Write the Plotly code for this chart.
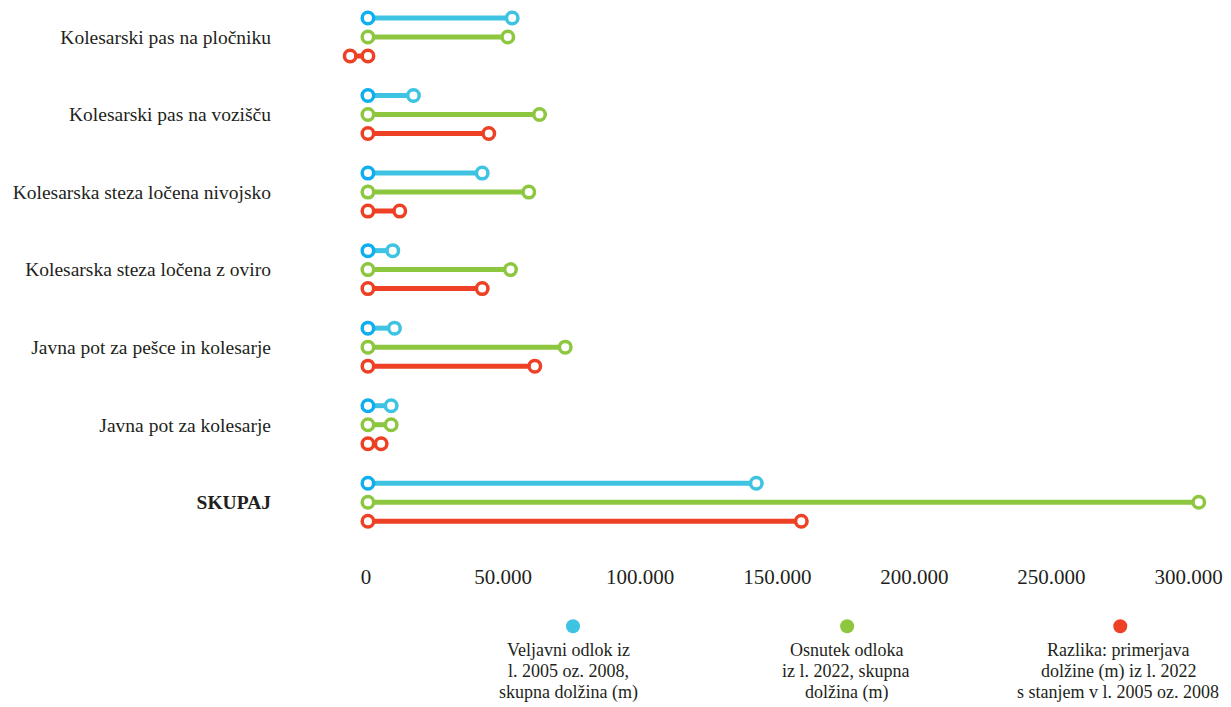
import plotly.graph_objects as go

categories = [
    "Kolesarski pas na pločniku",
    "Kolesarski pas na vozišču",
    "Kolesarska steza ločena nivojsko",
    "Kolesarska steza ločena z oviro",
    "Javna pot za pešce in kolesarje",
    "Javna pot za kolesarje",
    "<b>SKUPAJ</b>",
]
veljavni = [52610, 16600, 41670, 9050, 9670, 8460, 141620]
osnutek = [51000, 62570, 58660, 51990, 71950, 8460, 302990]
razlika = [-6490, 44070, 11600, 41670, 60850, 4810, 158050]

x_tickvals = [0, 50000, 100000, 150000, 200000, 250000, 300000]
x_ticktext = ["0", "50.000", "100.000", "150.000", "200.000", "250.000", "300.000"]

legend_texts = [
    ["Veljavni odlok iz", "l. 2005 oz. 2008,", "skupna dolžina (m)"],
    ["Osnutek odloka", "iz l. 2022, skupna", "dolžina (m)"],
    ["Razlika: primerjava", "dolžine (m) iz l. 2022", "s stanjem v l. 2005 oz. 2008"],
]

series = [
    (veljavni, -0.245, "#0FAEEF", "#3EC3E3"),
    (osnutek, 0.0, "#8DC63F", "#8DC63F"),
    (razlika, 0.245, "#EE4024", "#EE4024"),
]

FONT = "Liberation Serif"
TXT = "#231F20"

fig = go.Figure()
for vals, off, c_start, c_line in series:
    xs, ys, mcols = [], [], []
    for i, v in enumerate(vals):
        xs += [0, v, None]
        ys += [i + off, i + off, None]
        mcols += [c_start, c_line, c_line]
    fig.add_trace(go.Scatter(
        x=xs, y=ys, mode="lines+markers",
        line=dict(color=c_line, width=5),
        marker=dict(symbol="circle", size=11.5, color="white",
                    line=dict(color=mcols, width=3.5)),
        showlegend=False, hoverinfo="skip", cliponaxis=False,
    ))

FW, FH = 1223, 699
L, W = 338.1, 871.6
T, H = 0.0, 532.75
def px2paper_x(px):
    return (px - L) / W
def px2paper_y(py):
    return (T + H - py) / H

legend_cols = ["#3EC3E3", "#8DC63F", "#EE4024"]
dot_x = [565, 839, 1112]
text_x = [560, 838, 1110]
line_y = [642, 663, 684]
shapes = []
annotations = []
for k in range(3):
    shapes.append(dict(
        type="circle", xref="paper", yref="paper",
        xsizemode="pixel", ysizemode="pixel",
        xanchor=px2paper_x(dot_x[k]), yanchor=px2paper_y(618),
        x0=-7, x1=7, y0=-7, y1=7,
        fillcolor=legend_cols[k], line=dict(width=0),
    ))
    for j, line in enumerate(legend_texts[k]):
        annotations.append(dict(
            x=px2paper_x(text_x[k]), y=px2paper_y(line_y[j]),
            xref="paper", yref="paper", text=line, showarrow=False,
            xanchor="center", yanchor="middle",
            font=dict(family=FONT, size=18, color=TXT),
        ))

fig.update_layout(
    width=FW, height=FH,
    margin=dict(l=L, r=FW - L - W, t=T, b=FH - T - H),
    plot_bgcolor="white", paper_bgcolor="white",
    font=dict(family=FONT, color=TXT),
    shapes=shapes, annotations=annotations,
    xaxis=dict(
        range=[-8000, 310000], tickvals=x_tickvals, ticktext=x_ticktext,
        showgrid=False, zeroline=False, showline=False, ticks="",
        tickfont=dict(family=FONT, size=21, color=TXT),
        ticklabelstandoff=21, ticklabeloverflow="allow",
        ticklabelshift=-2,
    ),
    yaxis=dict(
        range=[6.5, -29 / 77.5], tickvals=list(range(len(categories))),
        ticktext=categories,
        showgrid=False, zeroline=False, showline=False, ticks="",
        tickfont=dict(family=FONT, size=19.5, color=TXT),
        ticklabelstandoff=74,
    ),
)

fig.write_html("out.html")
